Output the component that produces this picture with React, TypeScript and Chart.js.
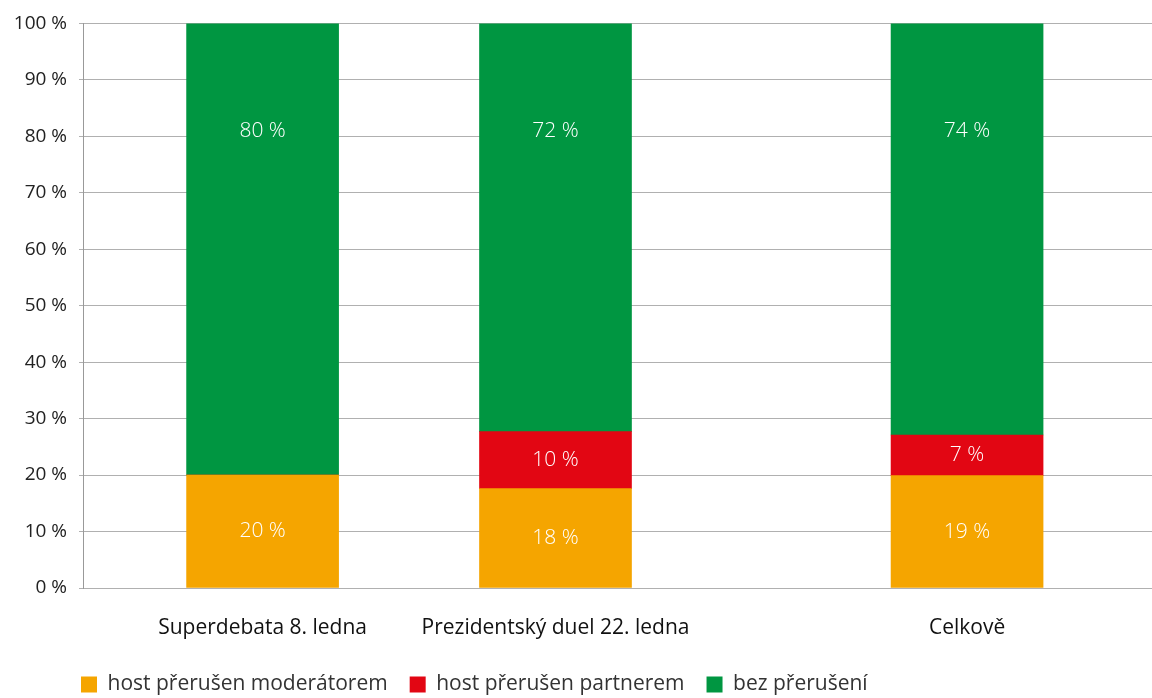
import React, { useEffect, useRef } from "react";
import { Chart, registerables } from "chart.js";

Chart.register(...registerables);

// ---- data ----
const categories = ["Superdebata 8. ledna", "Prezidentský duel 22. ledna", "Celkově"];
const categoryX = [16.8, 44.2, 82.7];
const seriesNames = ["host přerušen moderátorem", "host přerušen partnerem", "bez přerušení"];
const moderatorValues = [20, 17.6, 19.9];
const partnerValues = [0, 10.1, 7.2];
const uninterruptedValues = [80, 72.3, 72.9];
const moderatorLabels = ["20 %", "18 %", "19 %"];
const partnerLabels = ["", "10 %", "7 %"];
const uninterruptedLabels = ["80 %", "72 %", "74 %"];
const yTickValues = [0, 10, 20, 30, 40, 50, 60, 70, 80, 90, 100];

const COLORS = ["#f5a500", "#e20613", "#009641"];
const FONT = "'Open Sans', 'Noto Sans', sans-serif";

const barLabelPlugin = {
  id: "barLabels",
  afterDatasetsDraw(chart: any) {
    const ctx = chart.ctx;
    const yScale = chart.scales.y;
    ctx.save();
    ctx.font = `300 21px ${FONT}`;
    ctx.fillStyle = "#ffffff";
    ctx.textAlign = "center";
    ctx.textBaseline = "middle";
    chart.data.datasets.forEach((ds: any, di: number) => {
      const meta = chart.getDatasetMeta(di);
      meta.data.forEach((el: any, i: number) => {
        const t = ds.valueLabels[i];
        if (!t) return;
        const { x, y, base } = el.getProps(["x", "y", "base"], true);
        const cy = ds.labelAt != null ? yScale.getPixelForValue(ds.labelAt) : (y + base) / 2;
        ctx.fillText(t, x, cy);
      });
    });
    ctx.restore();
  },
};

const legendPlacePlugin = {
  id: "legendPlace",
  afterLayout(chart: any) {
    const lg = chart.legend;
    if (!lg) return;
    const pad = lg.options.labels.padding;
    const dx = chart.chartArea.left - 2 - pad - lg.left;
    lg.left += dx;
    lg.right += dx;
    const dy = chart.chartArea.bottom + 64 - lg.top;
    lg.top += dy;
    lg.bottom += dy;
  },
};

export default function App() {
  const ref = useRef<HTMLCanvasElement | null>(null);
  useEffect(() => {
    if (!ref.current) return;
    const mk = (vals: number[]) => vals.map((v, i) => ({ x: categoryX[i], y: v }));
    const chart = new Chart(ref.current, {
      type: "bar",
      data: {
        datasets: [
          { label: seriesNames[0], data: mk(moderatorValues), backgroundColor: COLORS[0], valueLabels: moderatorLabels } as any,
          { label: seriesNames[1], data: mk(partnerValues), backgroundColor: COLORS[1], valueLabels: partnerLabels } as any,
          { label: seriesNames[2], data: mk(uninterruptedValues), backgroundColor: COLORS[2], valueLabels: uninterruptedLabels, labelAt: 81 } as any,
        ],
      },
      options: {
        animation: false,
        responsive: true,
        maintainAspectRatio: false,
        barThickness: 152,
        layout: { padding: { top: 22, bottom: 0, left: 0, right: 0 } },
        plugins: {
          tooltip: { enabled: false },
          legend: {
            position: "bottom",
            align: "start",
            labels: {
              boxWidth: 16,
              boxHeight: 16,
              padding: 22,
              color: "#333",
              font: { size: 21, family: FONT },
            },
          },
        },
        scales: {
          x: {
            type: "linear",
            stacked: true,
            offset: false,
            min: 0,
            max: 100,
            grid: { display: false, drawTicks: false },
            border: { display: false },
            afterBuildTicks: (s: any) => {
              s.ticks = categoryX.map((v) => ({ value: v }));
            },
            afterFit: (s: any) => {
              s.height = 57;
            },
            ticks: {
              autoSkip: false,
              maxRotation: 0,
              padding: 27,
              color: "#111",
              font: { size: 21, family: FONT },
              callback: (_v: any, i: number) => categories[i],
            },
          },
          y: {
            stacked: true,
            min: 0,
            max: 100,
            afterBuildTicks: (s: any) => {
              s.ticks = yTickValues.map((v) => ({ value: v }));
            },
            afterFit: (s: any) => {
              s.width = 83;
            },
            ticks: {
              padding: 12,
              color: "#222",
              font: { size: 19, family: FONT },
              callback: (v: any) => `${v} %`,
            },
            grid: { color: "#b0b0b0", lineWidth: 1, tickLength: 4, drawTicks: true },
            border: { display: true, color: "#999", width: 1 },
          },
        },
      } as any,
      plugins: [barLabelPlugin, legendPlacePlugin],
    });
    return () => chart.destroy();
  }, []);
  return (
    <div style={{ position: "fixed", left: 0, top: 0, width: 1152, height: 698, background: "#fff" }}>
      <canvas ref={ref} />
    </div>
  );
}
